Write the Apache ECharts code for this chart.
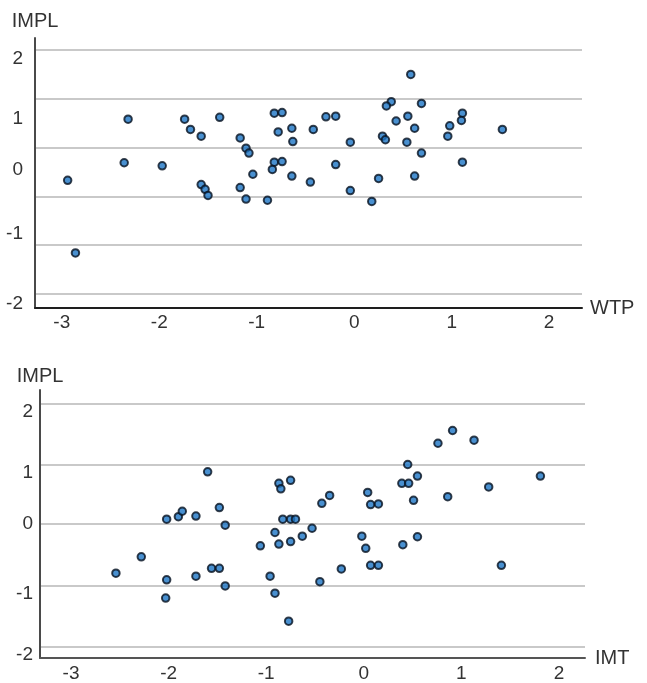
<!DOCTYPE html>
<html>
<head>
<meta charset="utf-8">
<script src="https://cdn.jsdelivr.net/npm/echarts@6/dist/echarts.min.js"></script>
<style>
html,body{margin:0;padding:0;background:#fff;}
#chart{width:647px;height:683px;}
</style>
</head>
<body>
<div id="chart"></div>
<script>
// ---- data ----
const wtpX = [-2.94,-2.86,-2.32,-2.36,-1.97,-1.74,-1.68,-1.57,-1.38,-1.57,-1.53,-1.50,-1.17,-1.11,-1.08,-1.04,-1.17,-1.11,-0.89,-0.82,-0.74,-0.78,-0.64,-0.63,-0.42,-0.82,-0.84,-0.74,-0.64,-0.45,-0.29,-0.19,-0.04,-0.19,-0.04,0.18,0.25,0.58,0.38,0.33,0.69,0.43,0.55,0.62,0.29,0.32,0.54,0.69,0.62,0.98,0.96,1.11,1.10,1.11,1.52];
const wtpImpl = [-0.06,-1.26,0.95,0.23,0.18,0.95,0.78,0.67,0.98,-0.13,-0.21,-0.31,0.64,0.47,0.39,0.04,-0.18,-0.37,-0.39,1.05,1.06,0.74,0.80,0.58,0.78,0.24,0.12,0.25,0.01,-0.09,0.99,1.00,0.57,0.20,-0.23,-0.41,-0.03,1.69,1.24,1.17,1.21,0.92,1.00,0.80,0.67,0.61,0.57,0.39,0.01,0.84,0.67,1.05,0.93,0.24,0.78];
const imtX = [-2.54,-2.28,-2.02,-1.90,-1.86,-1.72,-1.60,-1.48,-1.42,-2.02,-2.03,-1.72,-1.56,-1.48,-1.42,-1.06,-0.96,-0.91,-0.77,-0.87,-0.85,-0.75,-0.91,-0.87,-0.75,-0.83,-0.75,-0.70,-0.63,-0.53,-0.43,-0.45,-0.35,-0.23,-0.02,0.02,0.04,0.07,0.15,0.07,0.15,0.40,0.55,0.39,0.46,0.45,0.55,0.51,0.76,0.91,1.13,0.86,1.28,1.41,1.81];
const imtImpl = [-0.69,-0.42,0.20,0.24,0.33,0.25,0.98,0.39,0.10,-0.80,-1.10,-0.74,-0.61,-0.61,-0.90,-0.24,-0.74,-1.02,-1.48,0.79,0.70,0.84,-0.02,-0.21,-0.17,0.20,0.20,0.20,-0.08,0.05,0.46,-0.83,0.59,-0.62,-0.08,-0.28,0.64,0.44,0.45,-0.56,-0.56,-0.22,-0.09,0.79,0.79,1.10,0.91,0.51,1.45,1.66,1.50,0.57,0.73,-0.56,0.91];
const xTickLabels = ['-3','-2','-1','0','1','2'];
const yTickLabels = ['2','1','0','-1','-2'];
const yName = 'IMPL';
const xNames = ['WTP','IMT'];

// ---- layout / style ----
const FONT = 'Liberation Sans, Arial, sans-serif';
const TXT = '#333';
const xTickVals = [-3,-2,-1,0,1,2];
// where the reference prints its y labels and grid lines (in the axis scale)
const topLabelPos = [1.956,0.964,0.110,-0.937,-2.094];
const topGridPos = [2.093,1.295,0.485,-0.332,-1.130,-1.928];
const botLabelPos = [1.972,0.965,0.120,-1.024,-2.033];
const botGridPos = [2.098,1.101,0.120,-0.889,-1.896];

function pairs(xs, ys){ return xs.map((x,i)=>[x, ys[i]]); }
function labelFmt(pos){
  return function(v){
    for (let i=0;i<pos.length;i++){ if (Math.abs(pos[i]-v) < 1e-6) return yTickLabels[i]; }
    return '';
  };
}
function xFmt(v){
  const i = xTickVals.findIndex(t => Math.abs(t - v) < 1e-6);
  return i >= 0 ? xTickLabels[i] : '';
}

function makeX(idx, min, max, lineColor, margin, name, nameGap, pad){
  return {
    type:'value', gridIndex: idx, min: min, max: max,
    name: name, nameLocation:'end', nameGap: nameGap,
    nameTextStyle:{fontFamily:FONT, fontSize:20, color:TXT, align:'left', verticalAlign:'middle', padding: pad},
    axisLine:{show:true, onZero:false, lineStyle:{color:lineColor, width:2}},
    axisTick:{show:false, customValues: xTickVals},
    splitLine:{show:false},
    axisLabel:{customValues: xTickVals, formatter: xFmt, fontFamily:FONT, fontSize:19, color:TXT, margin: margin}
  };
}
function makeY(idx, min, max, labelPos, gridPos, margin, nameGap){
  return {
    type:'value', gridIndex: idx, min: min, max: max,
    name: yName, nameLocation:'end', nameGap: nameGap,
    nameTextStyle:{fontFamily:FONT, fontSize:20, color:TXT, align:'center', verticalAlign:'middle'},
    axisLine:{show:true, onZero:false, lineStyle:{color:'#4a4a4a', width:2}},
    axisTick:{show:false, customValues: gridPos},
    splitLine:{show:true, lineStyle:{color:'#c9c9c9', width:2}},
    axisLabel:{customValues: labelPos, formatter: labelFmt(labelPos), fontFamily:FONT, fontSize:19, color:TXT, margin: margin}
  };
}

const marker = {color:'#1c74c4', borderColor:'#08111f', borderWidth:2};

const option = {
  animation:false,
  backgroundColor:'#fff',
  grid:[
    {left:35, top:38, width:547, height:270},
    {left:40, top:390, width:545, height:270}
  ],
  xAxis:[
    makeX(0, -3.275, 2.337, '#1e1e1e', 5, xNames[0], 8, [0,0,9,0]),
    makeX(1, -3.318, 2.267, '#555555', 6, xNames[1], 10, [0,0,4,0])
  ],
  yAxis:[
    makeY(0, -2.171, 2.292, topLabelPos, topGridPos, 12, 17),
    makeY(1, -2.087, 2.327, botLabelPos, botGridPos, 7, 14)
  ],
  series:[
    {type:'scatter', xAxisIndex:0, yAxisIndex:0, symbolSize:7.5, itemStyle:marker, data: pairs(wtpX, wtpImpl)},
    {type:'scatter', xAxisIndex:1, yAxisIndex:1, symbolSize:7.5, itemStyle:marker, data: pairs(imtX, imtImpl)}
  ]
};
const chart = echarts.init(document.getElementById('chart'), null, {renderer:'canvas'});
chart.setOption(option);
</script>
</body>
</html>
